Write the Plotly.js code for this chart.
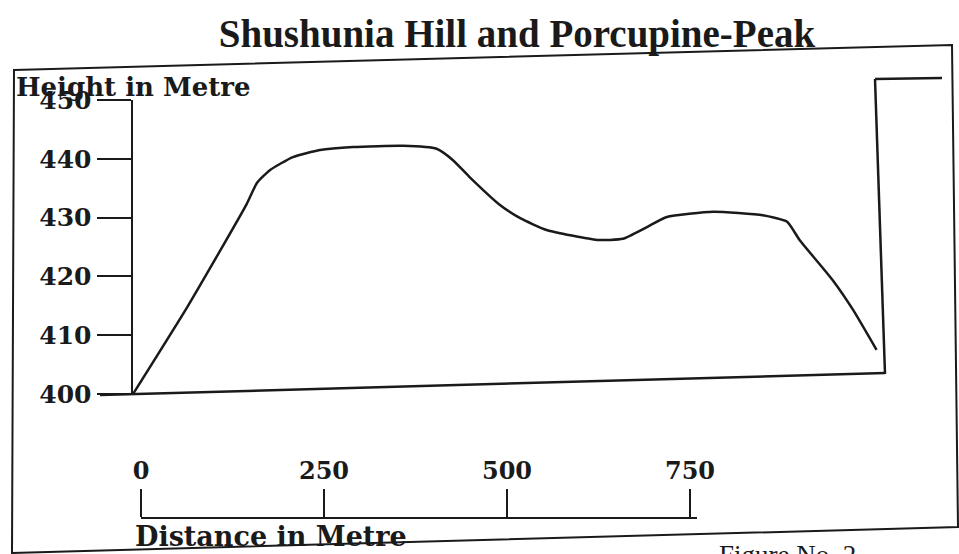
<!DOCTYPE html>
<html>
<head>
<meta charset="utf-8">
<script src="https://cdn.plot.ly/plotly-3.0.1.min.js"></script>
<style>html,body{margin:0;padding:0;background:#fff;}#chart{width:959px;height:554px;}</style>
</head>
<body>
<div id="chart"></div>
<script>
// ---- data ----
const distance = [0, 75, 155, 169, 187, 218, 255, 300, 368, 414, 436, 459, 500, 528, 564, 633, 668, 701, 728, 791, 859, 892, 909, 954, 982, 1014];
const height   = [400, 415.0, 432.3, 435.9, 438.1, 440.3, 441.5, 442.0, 442.2, 441.7, 439.8, 436.9, 432.2, 429.9, 427.9, 426.2, 426.4, 428.4, 430.1, 431.0, 430.4, 429.3, 426.2, 419.4, 414.3, 407.5];
const heightTicks = [400, 410, 420, 430, 440, 450];
const scaleTicks  = [0, 250, 500, 750];
const titleText = "Shushunia Hill and Porcupine-Peak";
const yTitleText = "Height in Metre";
const xTitleText = "Distance in Metre";
const figText = "Figure No. 2";

// ---- pixel helpers (page is 959 x 554, zero margins) ----
const W = 959, H = 554;
const px = v => v / W;
const py = v => 1 - v / H;
const ink = '#1a1a1a';
const boldSerif = {family: 'DejaVu Serif', weight: 'bold', color: ink};

const traces = [
  {
    x: distance, y: height, type: 'scatter', mode: 'lines',
    line: {color: ink, width: 2.5, shape: 'spline', smoothing: 0.5},
    hoverinfo: 'skip', showlegend: false
  },
  {
    x: scaleTicks, y: scaleTicks.map(() => 0), xaxis: 'x2', yaxis: 'y2',
    type: 'scatter', mode: 'markers', marker: {opacity: 0},
    hoverinfo: 'skip', showlegend: false
  }
];

function seg(x0, y0, x1, y1, w) {
  return {type: 'line', xref: 'paper', yref: 'paper',
          x0: px(x0), y0: py(y0), x1: px(x1), y1: py(y1),
          line: {color: ink, width: w}};
}

const layout = {
  width: W, height: H,
  margin: {l: 0, r: 0, t: 0, b: 0},
  paper_bgcolor: '#ffffff', plot_bgcolor: 'rgba(0,0,0,0)',
  showlegend: false,
  title: {text: titleText, x: px(517), y: py(33), xref: 'paper', yref: 'paper',
          xanchor: 'center', yanchor: 'middle',
          font: {family: 'Liberation Serif', weight: 'bold', size: 39, color: ink}},
  xaxis: {domain: [px(133), px(880)], range: [0, (880 - 133) / 0.7333],
          visible: false, fixedrange: true},
  yaxis: {domain: [py(394), py(100)], range: [400, 450],
          showline: true, linecolor: ink, linewidth: 2.5,
          ticks: 'outside', ticklen: 34, tickwidth: 2, tickcolor: ink,
          tickvals: heightTicks, ticktext: heightTicks.map(String),
          tickfont: Object.assign({size: 25}, boldSerif),
          showgrid: false, zeroline: false, fixedrange: true},
  xaxis2: {domain: [px(141), px(697)], range: [0, 750 * (697 - 141) / (690 - 141)],
           anchor: 'y2', side: 'top',
           showline: true, linecolor: ink, linewidth: 2.5,
           ticks: 'outside', ticklen: 28, tickwidth: 2, tickcolor: ink,
           tickvals: scaleTicks, ticktext: scaleTicks.map(String),
           tickfont: Object.assign({size: 24}, boldSerif),
           showgrid: false, zeroline: false, fixedrange: true},
  yaxis2: {domain: [0, py(519)], range: [0, 1], visible: false, fixedrange: true},
  shapes: [
    {type: 'path', xref: 'paper', yref: 'paper',
     path: `M ${px(14)} ${py(70)} L ${px(952)} ${py(45)} L ${px(958)} ${py(527)} L ${px(12)} ${py(553)} Z`,
     line: {color: ink, width: 2}},
    seg(100, 395, 885, 373, 2.5),
    seg(875, 79, 885, 374, 2.5),
    seg(875, 79, 942, 78, 2.5)
  ],
  annotations: [
    {text: yTitleText, xref: 'paper', yref: 'paper', x: px(14), y: py(87),
     xanchor: 'left', yanchor: 'middle', showarrow: false,
     font: Object.assign({size: 26}, boldSerif)},
    {text: xTitleText, xref: 'paper', yref: 'paper', x: px(133), y: py(536),
     xanchor: 'left', yanchor: 'middle', showarrow: false,
     font: Object.assign({size: 27}, boldSerif)},
    {text: figText, xref: 'paper', yref: 'paper', x: px(717), y: py(538),
     xanchor: 'left', yanchor: 'top', showarrow: false,
     font: {family: 'Liberation Serif', size: 27, color: ink}}
  ]
};

Plotly.newPlot('chart', traces, layout, {staticPlot: true, displayModeBar: false});
</script>
</body>
</html>
